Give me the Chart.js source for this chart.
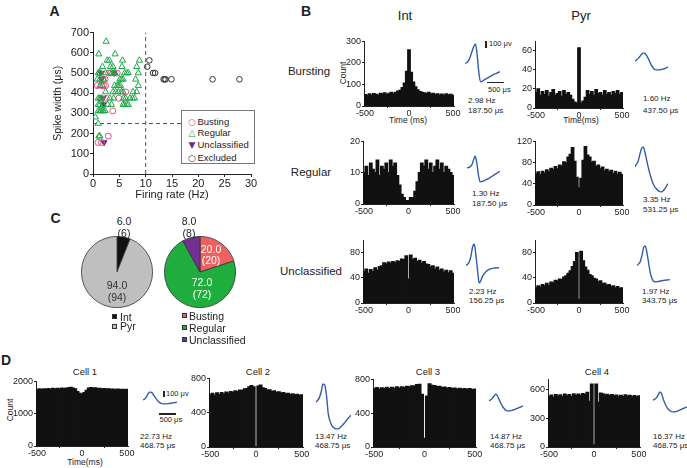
<!DOCTYPE html>
<html>
<head>
<meta charset="utf-8">
<script src="https://cdn.jsdelivr.net/npm/chart.js@4.4.1/dist/chart.umd.min.js"></script>
<style>
  body { margin: 0; width: 687px; height: 468px; position: relative; overflow: hidden; background: #fff;
         font-family: "Liberation Sans", Arial, sans-serif; color: #222; }
  canvas { position: absolute; }
  .t { position: absolute; white-space: nowrap; line-height: 1; transform: translate(-50%, -50%); color: #222; }
  .l { position: absolute; white-space: nowrap; line-height: 1; transform: translateY(-50%); font-size: 8px; color: #222; }
  .rot { transform: translate(-50%, -50%) rotate(-90deg); }
  .bar { position: absolute; background: #222; }
  .sq { position: absolute; width: 5px; height: 5px; border: 0.5px solid #333; box-sizing: border-box; }
</style>
</head>
<body>

<!-- panel letters and headings -->
<div class="t" style="left:54.5px;top:11px;font-size:14px;font-weight:bold">A</div>
<div class="t" style="left:306px;top:11px;font-size:14px;font-weight:bold">B</div>
<div class="t" style="left:55.5px;top:218px;font-size:14px;font-weight:bold">C</div>
<div class="t" style="left:6px;top:360px;font-size:14px;font-weight:bold">D</div>
<div class="t" style="left:405px;top:15px;font-size:13px">Int</div>
<div class="t" style="left:581px;top:15px;font-size:13px">Pyr</div>
<div class="t" style="left:309px;top:72px;font-size:11.5px">Bursting</div>
<div class="t" style="left:311px;top:173px;font-size:11.5px">Regular</div>
<div class="t" style="left:311px;top:272px;font-size:11.5px">Unclassified</div>
<div class="t rot" style="left:343px;top:73px;font-size:8.5px">Count</div>
<div class="t" style="left:408px;top:120px;font-size:8.5px">Time (ms)</div>
<div class="t" style="left:581px;top:120px;font-size:8.5px">Time(ms)</div>
<div class="t" style="left:85px;top:372px;font-size:9.5px">Cell 1</div>
<div class="t" style="left:258px;top:372px;font-size:9.5px">Cell 2</div>
<div class="t" style="left:428px;top:372px;font-size:9.5px">Cell 3</div>
<div class="t" style="left:597px;top:372px;font-size:9.5px">Cell 4</div>
<div class="t rot" style="left:10px;top:410px;font-size:8.5px">Count</div>
<div class="t" style="left:85px;top:462px;font-size:8.5px">Time(ms)</div>

<!-- rate / width notes -->
<div class="l" style="left:468px;top:101px">2.98 Hz</div>
<div class="l" style="left:468px;top:111px">187.50 μs</div>
<div class="l" style="left:643px;top:99px">1.60 Hz</div>
<div class="l" style="left:643px;top:111px">437.50 μs</div>
<div class="l" style="left:472px;top:194px">1.30 Hz</div>
<div class="l" style="left:472px;top:203.5px">187.50 μs</div>
<div class="l" style="left:643px;top:199.5px">3.35 Hz</div>
<div class="l" style="left:643px;top:209.5px">531.25 μs</div>
<div class="l" style="left:469px;top:292px">2.23 Hz</div>
<div class="l" style="left:469px;top:301px">156.25 μs</div>
<div class="l" style="left:642px;top:292px">1.97 Hz</div>
<div class="l" style="left:642px;top:301px">343.75 μs</div>
<div class="l" style="left:140px;top:437px">22.73 Hz</div>
<div class="l" style="left:140px;top:446px">468.75 μs</div>
<div class="l" style="left:315px;top:437px">13.47 Hz</div>
<div class="l" style="left:315px;top:446px">468.75 μs</div>
<div class="l" style="left:490px;top:437px">14.87 Hz</div>
<div class="l" style="left:490px;top:446px">468.75 μs</div>
<div class="l" style="left:653px;top:437px">16.37 Hz</div>
<div class="l" style="left:653px;top:446px">468.75 μs</div>

<!-- scale bars -->
<div class="bar" style="left:485px;top:41px;width:2px;height:7px"></div>
<div class="l" style="left:489px;top:43.5px;font-size:7.5px">100 μv</div>
<div class="bar" style="left:487px;top:81.5px;width:17px;height:1.5px"></div>
<div class="l" style="left:488px;top:89.5px;font-size:7.5px">500 μs</div>
<div class="bar" style="left:162.5px;top:391px;width:2px;height:6px"></div>
<div class="l" style="left:166px;top:393.5px;font-size:7.5px">100 μv</div>
<div class="bar" style="left:158.5px;top:413px;width:17px;height:1.5px"></div>
<div class="l" style="left:159.5px;top:420px;font-size:7.5px">500 μs</div>

<script>
// ---- panel A: firing rate (Hz) vs spike width (us)
const bustingPts = [[1.3,500],[3.0,500],[3.4,500],[4.6,500],[1.9,468.75],[2.3,468.75],[0.8,437.5],[1.6,437.5],
  [2.0,437.5],[2.4,437.5],[6.2,406.25],[1.6,375],[2.5,375],[4.9,375],[3.75,312.5],[2.9,187.5],[0.95,156.25],[1.6,156.25]];
const regularPts = [[2.5,656.25],[1.1,593.75],[4.2,593.75],[2.7,562.5],[3.1,562.5],[5.6,562.5],[8.8,562.5],
  [1.8,531.25],[3.3,531.25],[3.8,531.25],[5.5,531.25],[8.3,531.25],
  [1.0,500],[1.3,500],[2.4,500],[3.6,500],[4.0,500],[4.2,500],[6.0,500],[6.4,500],[6.7,500],[8.6,500],
  [0.8,468.75],[1.3,468.75],[2.0,468.75],[5.1,468.75],[5.4,468.75],[5.7,468.75],[8.1,468.75],
  [1.3,437.5],[1.8,437.5],[4.1,437.5],[4.6,437.5],[4.9,437.5],[5.2,437.5],[8.6,437.5],
  [2.4,406.25],[3.8,406.25],[4.3,406.25],[4.8,406.25],[5.4,406.25],[5.7,406.25],[7.6,406.25],[8.3,406.25],
  [1.0,375],[1.3,375],[1.6,375],[3.2,375],[3.9,375],[5.8,375],[6.2,375],[7.0,375],[7.5,375],[7.9,375],
  [1.0,343.75],[1.3,343.75],[1.9,343.75],[2.8,343.75],[3.5,343.75],[5.7,343.75],[6.0,343.75],[6.4,343.75],[6.7,343.75],
  [1.0,312.5],[1.3,312.5],[1.5,312.5],[1.8,312.5],[2.0,312.5],[2.3,312.5],
  [0.45,281.25],[1.0,250],[1.1,187.5],[1.3,187.5]];
const unclassPts = [[2.1,156.25],[1.5,500],[4.0,500],[1.9,375],[1.6,468.75],[2.0,343.75]];
const excludedPts = [[10.3,531.25],[10.7,562.5],[11.4,500],[11.8,500],[13.4,468.75],[13.6,468.75],[13.8,468.75],
  [14.9,468.75],[22.7,468.75],[27.8,468.75]];
const rateTicks = [0,5,10,15,20,25,30];
const widthTicks = [0,100,200,300,400,500,600,700];
const rateCut = 10, widthCut = 250;

// ---- panel C
const cellTypeLabels = ['Int','Pyr'];
const cellTypeCounts = [6,94];
const patternLabels = ['Busting','Regular','Unclassified'];
const patternCounts = [20,72,8];

// ---- panels B and D: autocorrelograms, 25 ms bins
const binLabels = [-500,-475,-450,-425,-400,-375,-350,-325,-300,-275,-250,-225,-200,-175,-150,-125,-100,-75,-50,-25,
  0,25,50,75,100,125,150,175,200,225,250,275,300,325,350,375,400,425,450,475,500];
const timeTicks = [-500,0,500];
const burstInt = [52,48,55,50,57,53,49,58,55,60,52,58,62,56,63,68,72,85,105,160,260,155,110,88,74,66,62,60,57,63,55,58,52,56,50,54,49,55,51,53,48];
const burstPyr = [16,20,13,17,14,18,12,16,19,13,15,17,12,18,14,16,13,9,6,5,63,5,7,11,18,14,17,13,19,15,16,13,18,14,16,13,17,15,18,14,16];
const regInt = [10,12,9,13,11,10,14,9,12,11,13,10,14,12,13,9,6,3,2,1,1,2,2,4,7,10,13,12,14,11,13,10,12,14,11,13,10,12,11,10,9];
const regPyr = [58,62,57,63,60,66,62,69,66,72,68,75,73,81,79,90,95,108,82,52,32,50,84,110,94,90,80,82,72,75,68,71,64,67,62,65,59,63,58,61,57];
const unclInt = [50,54,47,53,50,56,52,58,59,64,62,65,63,66,64,67,66,70,69,75,38,76,69,71,66,68,63,66,62,61,57,59,54,57,52,54,49,52,48,51,47];
const unclPyr = [24,27,25,29,27,31,28,33,32,36,35,38,37,41,43,47,51,58,66,80,5,82,67,57,52,45,43,39,38,34,35,31,31,28,29,26,27,24,26,23,24];
const cell1 = [1735,1760,1740,1765,1745,1770,1748,1775,1758,1780,1762,1785,1772,1790,1795,1810,1790,1760,1680,1620,1600,1650,1720,1785,1805,1788,1795,1770,1778,1760,1770,1752,1762,1745,1758,1740,1752,1738,1748,1742,1750];
const cell2 = [605,622,600,628,610,632,615,638,625,645,635,652,645,660,655,675,678,700,715,700,0,708,720,688,680,662,665,645,652,635,640,625,632,618,624,610,618,605,612,600,606];
const cell3 = [685,700,682,698,688,703,690,705,692,708,696,710,702,715,708,722,718,735,740,620,100,600,745,728,725,712,714,702,706,694,700,688,696,684,692,682,690,680,688,678,684];
const cell4 = [520,535,515,540,525,538,520,545,528,540,522,548,530,545,532,552,540,565,470,650,20,650,460,555,548,538,542,530,540,528,536,522,534,520,538,524,532,518,530,520,528];

// ---- mean waveforms (uV), 50 us steps
const waveTimes = [0,50,100,150,200,250,300,350,400,450,500,550,600,650,700,750,800,850,900,950,1000];
const waveBurstInt = [0,8,40,104,184,264,304,120,-168,-296,-280,-264,-248,-232,-216,-200,-184,-168,-160,-144,-136];
const waveBurstPyr = [0,16,40,72,104,125,120,88,40,-16,-72,-112,-136,-144,-144,-141,-136,-128,-120,-109,-96];
const waveRegInt = [0,8,21,53,133,192,69,-123,-227,-219,-211,-195,-184,-171,-155,-139,-120,-104,-86,-70,-54];
const waveRegPyr = [0,43,99,203,291,315,235,115,-5,-109,-197,-269,-317,-349,-378,-394,-400,-381,-352,-309,-269];
const waveUnclInt = [0,16,56,144,288,336,160,-80,-280,-240,-176,-136,-104,-80,-64,-56,-48,-45,-42,-40,-38];
const waveUnclPyr = [0,24,64,160,288,312,208,48,-112,-208,-256,-267,-264,-259,-251,-246,-242,-238,-235,-232,-229];
const waveCell1 = [0,13,45,93,120,114,82,45,8,-24,-46,-58,-64,-64,-61,-58,-53,-50,-45,-42,-38];
const waveCell2 = [0,35,78,171,291,275,107,-181,-301,-368,-402,-419,-426,-421,-397,-368,-338,-304,-269,-237,-205];
const waveCell3 = [0,14,38,75,107,75,14,-45,-93,-130,-154,-165,-165,-158,-150,-141,-130,-118,-107,-96,-85];
const waveCell4 = [0,16,35,80,128,104,19,-48,-104,-144,-168,-181,-187,-184,-176,-165,-152,-141,-128,-117,-107];

const FONT = '"Liberation Sans", Arial, sans-serif';
const INK = '#222';
const BLUE = '#2f5ea9';
Chart.defaults.font.family = FONT;
Chart.defaults.color = INK;

function addCanvas(left, top, w, h) {
  const c = document.createElement('canvas');
  w = Math.round(w); h = Math.round(h);
  c.width = w; c.height = h;
  c.style.left = left + 'px'; c.style.top = top + 'px';
  c.style.width = w + 'px'; c.style.height = h + 'px';
  document.body.appendChild(c);
  return c;
}

const noPlugins = { legend: { display: false }, tooltip: { enabled: false } };

function hist(box, data, yMax, yTicks) {
  const [pL, pT, pR, pB] = box;
  const YW = 26, XH = 14, PT = 6, PR = 10;
  const c = addCanvas(pL - YW, pT - PT, YW + (pR - pL) + PR, PT + (pB - pT) + XH);
  new Chart(c, {
    type: 'bar',
    data: { labels: binLabels, datasets: [{ data, backgroundColor: '#111', borderWidth: 0, inflateAmount: 0.8,
      barPercentage: 1, categoryPercentage: 1 }] },
    options: {
      responsive: false, animation: false, devicePixelRatio: 1,
      layout: { padding: { top: PT, right: PR, left: 0, bottom: 0 } },
      plugins: noPlugins,
      scales: {
        x: {
          grid: { drawOnChartArea: false, tickLength: 2, color: INK },
          border: { color: INK },
          ticks: { autoSkip: false, maxRotation: 0, padding: 0, font: { size: 9 },
            callback: (v, i) => timeTicks.includes(binLabels[i]) ? String(binLabels[i]) : null },
          afterFit: s => { s.height = XH; }
        },
        y: {
          min: 0, max: yMax,
          grid: { drawOnChartArea: false, tickLength: 2, color: INK },
          border: { color: INK },
          ticks: { padding: 1, font: { size: 9 }, callback: v => String(v) },
          afterBuildTicks: s => { s.ticks = yTicks.map(v => ({ value: v })); },
          afterFit: s => { s.width = YW; }
        }
      }
    }
  });
}

function wave(box, uv) {
  const [l, t, w, h] = box;
  const c = addCanvas(l - 2, t - 2, w + 4, h + 4);
  new Chart(c, {
    type: 'line',
    data: { datasets: [{ data: uv.map((v, i) => ({ x: waveTimes[i], y: v })), borderColor: BLUE, borderWidth: 1.4,
      pointRadius: 0, cubicInterpolationMode: 'monotone', fill: false }] },
    options: {
      responsive: false, animation: false, devicePixelRatio: 1,
      layout: { padding: 2 }, plugins: noPlugins,
      scales: { x: { type: 'linear', display: false, min: 0, max: 1000 }, y: { display: false, bounds: 'data' } }
    }
  });
}

// ---- A
const guides = {
  id: 'guides',
  beforeDatasetsDraw(chart) {
    const { ctx, scales: { x, y } } = chart;
    ctx.save();
    ctx.setLineDash([4, 3]);
    ctx.strokeStyle = '#555';
    ctx.lineWidth = 1;
    ctx.beginPath();
    ctx.moveTo(x.getPixelForValue(rateCut), y.getPixelForValue(0));
    ctx.lineTo(x.getPixelForValue(rateCut), y.getPixelForValue(700));
    ctx.moveTo(x.getPixelForValue(0), y.getPixelForValue(widthCut));
    ctx.lineTo(x.getPixelForValue(30), y.getPixelForValue(widthCut));
    ctx.stroke();
    ctx.restore();
  }
};
const pts = arr => arr.map(([x, y]) => ({ x, y }));
new Chart(addCanvas(50, 25, 209, 177), {
  type: 'scatter',
  data: { datasets: [
    { label: 'Regular', data: pts(regularPts), pointStyle: 'triangle', radius: 3.6, borderColor: '#1fa64a', backgroundColor: 'rgba(0,0,0,0)', borderWidth: 1 },
    { label: 'Busting', data: pts(bustingPts), pointStyle: 'circle', radius: 3, borderColor: '#e4507f', backgroundColor: 'rgba(0,0,0,0)', borderWidth: 1 },
    { label: 'Unclassified', data: pts(unclassPts), pointStyle: 'triangle', rotation: 180, radius: 3.4, borderColor: '#6a2d8f', backgroundColor: '#6a2d8f', borderWidth: 1 },
    { label: 'Excluded', data: pts(excludedPts), pointStyle: 'circle', radius: 2.8, borderColor: '#333', backgroundColor: 'rgba(0,0,0,0)', borderWidth: 1 }
  ] },
  options: {
    responsive: false, animation: false, devicePixelRatio: 1,
    layout: { padding: { top: 6, right: 8, left: 0, bottom: 0 } },
    plugins: noPlugins,
    scales: {
      x: {
        type: 'linear', min: 0, max: 30,
        grid: { drawOnChartArea: false, tickLength: 3, color: INK },
        border: { color: INK },
        ticks: { padding: 0, font: { size: 11 } },
        afterBuildTicks: s => { s.ticks = rateTicks.map(v => ({ value: v })); },
        title: { display: true, text: 'Firing rate (Hz)', font: { size: 11 }, padding: 0 },
        afterFit: s => { s.height = 28; }
      },
      y: {
        min: 0, max: 700,
        grid: { drawOnChartArea: false, tickLength: 3, color: INK },
        border: { color: INK },
        ticks: { padding: 1, font: { size: 11 } },
        afterBuildTicks: s => { s.ticks = widthTicks.map(v => ({ value: v })); },
        title: { display: true, text: 'Spike width (μs)', font: { size: 10.5 }, padding: { top: 2, bottom: 0 } },
        afterFit: s => { s.width = 43; }
      }
    }
  },
  plugins: [guides]
});

// ---- B
hist([364, 41, 454, 106], burstInt, 300, [0,100,200,300]);
hist([535, 41, 623, 108], burstPyr, 70, [0,20,40,60]);
hist([363, 141, 454, 204], regInt, 20, [0,10,20]);
hist([535, 141, 623, 205], regPyr, 120, [0,40,80,120]);
hist([363, 240, 454, 303], unclInt, 100, [0,20,40,60,80,100]);
hist([535, 240, 623, 303], unclPyr, 100, [0,20,40,60,80,100]);
wave([465, 43.5, 35, 37.5], waveBurstInt);
wave([635, 53.2, 33, 16.8], waveBurstPyr);
wave([467, 156.3, 33, 26.2], waveRegInt);
wave([635, 147, 33, 44.7], waveRegPyr);
wave([466, 244, 33, 38.5], waveUnclInt);
wave([637, 245.5, 33, 36.2], waveUnclPyr);

// ---- D
hist([36, 381, 128, 446], cell1, 2000, [0,1000,2000]);
hist([209, 378, 303, 447], cell2, 800, [0,400,800]);
hist([373, 379, 476, 447], cell3, 800, [0,400,800]);
hist([548, 379, 640, 447], cell4, 700, [0,300,600]);
wave([143, 391.8, 34, 11.5], waveCell1);
wave([315.7, 383.5, 35, 44.8], waveCell2);
wave([489.3, 394, 34, 17], waveCell3);
wave([652.7, 392, 34, 19.7], waveCell4);

// ---- C
function pie(left, top, labels, counts, colors) {
  new Chart(addCanvas(left, top, 72, 72), {
    type: 'pie',
    data: { labels, datasets: [{ data: counts, backgroundColor: colors, borderColor: '#333', borderWidth: 0.8 }] },
    options: { responsive: false, animation: false, devicePixelRatio: 1, layout: { padding: 0 }, plugins: noPlugins }
  });
}
const typeColors = ['#111', '#bfbfbf'];
const patternColors = ['#f0605f', '#1fae3e', '#732f93'];
pie(81, 236, cellTypeLabels, cellTypeCounts, typeColors);
pie(164, 236, patternLabels, patternCounts, patternColors);

function label(text, x, y, size, color, cls) {
  const d = document.createElement('div');
  d.className = cls || 't';
  d.textContent = text;
  d.style.left = x + 'px'; d.style.top = y + 'px';
  d.style.fontSize = size + 'px';
  if (color) d.style.color = color;
  document.body.appendChild(d);
  return d;
}
function square(x, y, color) {
  const d = document.createElement('div');
  d.className = 'sq';
  d.style.left = x + 'px'; d.style.top = y + 'px'; d.style.background = color;
  document.body.appendChild(d);
}
// slice values
const pctPos = [[[124, 221, 233], '#222'], [[117, 285, 297], '#333']];
cellTypeCounts.forEach((v, i) => {
  const [[x, y1, y2], col] = pctPos[i];
  label(v.toFixed(1), x, y1, 10.5, col);
  label('(' + v + ')', x, y2, 10.5, col);
});
const patPos = [[[211, 249, 260], '#fff'], [[202, 282, 294], '#fff'], [[189, 221, 233], '#222']];
patternCounts.forEach((v, i) => {
  const [[x, y1, y2], col] = patPos[i];
  label(v.toFixed(1), x, y1, 10.5, col);
  label('(' + v + ')', x, y2, 10.5, col);
});
// legends under pies
cellTypeLabels.forEach((s, i) => {
  square(112, 314 + i * 9.5, typeColors[i]);
  label(s, 120, 316.5 + i * 9.5, 10.5, null, 'l');
});
patternLabels.forEach((s, i) => {
  square(181.5, 313 + i * 12, patternColors[i]);
  label(s, 189, 315.5 + i * 12, 10.5, null, 'l');
});

// panel A legend box
const box = document.createElement('div');
box.style.cssText = 'position:absolute;left:181px;top:110px;width:74px;height:54px;border:1px solid #777;background:#fff;box-sizing:border-box';
document.body.appendChild(box);
const legA = [['○', '#e4507f', 'Busting'], ['△', '#1fa64a', 'Regular'], ['▼', '#6a2d8f', 'Unclassified'], ['○', '#333', 'Excluded']];
const legY = [121.7, 132.5, 145, 157.5];
legA.forEach(([m, col, s], i) => {
  const mk = label(m, 192, legY[i], 9, col, 't');
  mk.style.fontFamily = '"DejaVu Sans", sans-serif';
  label(s, 197.5, legY[i], 9.5, null, 'l');
});
</script>
</body>
</html>
